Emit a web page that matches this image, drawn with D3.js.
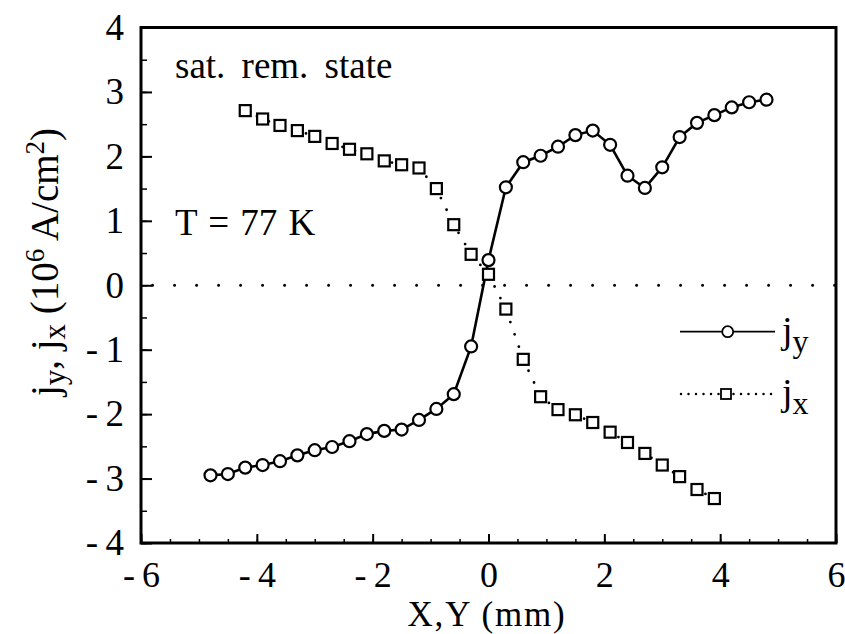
<!DOCTYPE html>
<html><head><meta charset="utf-8">
<script src="https://cdn.jsdelivr.net/npm/d3@7"></script>
<style>
body{margin:0;background:#fff;}
text{font-family:"Liberation Serif","Times New Roman",serif;fill:#000;}
</style></head>
<body><svg id="c" width="845" height="634"></svg>
<script>
// ---- data ----
const jyX = [-4.8,-4.5,-4.2,-3.9,-3.6,-3.3,-3.0,-2.7,-2.4,-2.1,-1.8,-1.5,-1.2,-0.9,-0.6,-0.3,0.0,0.3,0.6,0.9,1.2,1.5,1.8,2.1,2.4,2.7,3.0,3.3,3.6,3.9,4.2,4.5,4.8];
const jyVals = [-2.95,-2.93,-2.83,-2.79,-2.73,-2.64,-2.56,-2.51,-2.42,-2.31,-2.26,-2.24,-2.09,-1.92,-1.69,-0.95,0.39,1.52,1.91,2.01,2.15,2.33,2.40,2.18,1.70,1.51,1.83,2.30,2.52,2.64,2.76,2.84,2.88];
const jxX = [-4.2,-3.9,-3.6,-3.3,-3.0,-2.7,-2.4,-2.1,-1.8,-1.5,-1.2,-0.9,-0.6,-0.3,0.0,0.3,0.6,0.9,1.2,1.5,1.8,2.1,2.4,2.7,3.0,3.3,3.6,3.9];
const jxVals = [2.71,2.58,2.48,2.40,2.31,2.20,2.11,2.04,1.93,1.87,1.82,1.50,0.94,0.48,0.17,-0.37,-1.15,-1.73,-1.93,-2.01,-2.13,-2.28,-2.44,-2.61,-2.79,-2.97,-3.17,-3.31];
const xTicks = [-6,-4,-2,0,2,4,6];
const yTicks = [-4,-3,-2,-1,0,1,2,3,4];

const svg = d3.select("#c");
const L=141, R=836, T=27.5, B=543;
const x = d3.scaleLinear().domain([-6,6]).range([L,R]);
const y = d3.scaleLinear().domain([-4,4]).range([B,T]);
const fmt = d => d<0 ? "-\u2009"+Math.abs(d) : String(d);

// minor ticks
const minorX = d3.range(-6,6.01,0.5);
const minorY = d3.range(-4,4.01,0.5);
svg.append("g").attr("transform",`translate(0,${B})`)
  .call(d3.axisBottom(x).tickValues(minorX).tickSize(-4).tickFormat(""))
  .call(g=>{g.select(".domain").remove(); g.selectAll("line").attr("stroke-width",1.5);});
svg.append("g").attr("transform",`translate(${L},0)`)
  .call(d3.axisLeft(y).tickValues(minorY).tickSize(-6).tickFormat(""))
  .call(g=>{g.select(".domain").remove(); g.selectAll("line").attr("stroke-width",1.5);});
// major ticks
svg.append("g").attr("transform",`translate(0,${B})`)
  .call(d3.axisBottom(x).tickValues(xTicks).tickSize(-9).tickPadding(18).tickFormat(fmt))
  .call(g=>{g.select(".domain").remove(); g.selectAll("line").attr("stroke-width",2);
    g.selectAll("text").attr("font-size",36).attr("font-family","Liberation Serif").attr("fill","#000");});
svg.append("g").attr("transform",`translate(${L},0)`)
  .call(d3.axisLeft(y).tickValues(yTicks).tickSize(-11).tickPadding(17).tickFormat(fmt))
  .call(g=>{g.select(".domain").remove(); g.selectAll("line").attr("stroke-width",2);
    g.selectAll("text").attr("font-size",37).attr("font-family","Liberation Serif").attr("fill","#000");});

// frame
svg.append("rect").attr("x",L).attr("y",T).attr("width",R-L).attr("height",B-T)
  .attr("fill","none").attr("stroke","#000").attr("stroke-width",3);

// zero line
svg.append("line").attr("x1",x(-5.8)).attr("x2",x(6)).attr("y1",y(0)).attr("y2",y(0))
  .attr("stroke","#000").attr("stroke-width",3).attr("stroke-dasharray","0,22").attr("stroke-linecap","round");

const jy = jyX.map((v,i)=>[v,jyVals[i]]);
const jx = jxX.map((v,i)=>[v,jxVals[i]]);
const line = d3.line().x(d=>x(d[0])).y(d=>y(d[1]));

svg.append("path").datum(jx).attr("d",line).attr("fill","none").attr("stroke","#000")
  .attr("stroke-width",2.8).attr("stroke-dasharray","0,13").attr("stroke-linecap","round");
svg.append("path").datum(jy).attr("d",line).attr("fill","none").attr("stroke","#000").attr("stroke-width",2.6);

svg.selectAll(".sq").data(jx).join("rect").attr("class","sq")
  .attr("x",d=>x(d[0])-5.5).attr("y",d=>y(d[1])-5.5).attr("width",11).attr("height",11)
  .attr("fill","#fff").attr("stroke","#000").attr("stroke-width",2.2);
svg.selectAll(".ci").data(jy).join("circle").attr("class","ci")
  .attr("cx",d=>x(d[0])).attr("cy",d=>y(d[1])).attr("r",6)
  .attr("fill","#fff").attr("stroke","#000").attr("stroke-width",2.2);

// legend
const lg = svg.append("g");
lg.append("line").attr("x1",680).attr("x2",775).attr("y1",331.7).attr("y2",331.7).attr("stroke","#000").attr("stroke-width",1.8);
lg.append("circle").attr("cx",727.7).attr("cy",331.7).attr("r",5.5).attr("fill","#fff").attr("stroke","#000").attr("stroke-width",1.8);
lg.append("line").attr("x1",681).attr("x2",775).attr("y1",394).attr("y2",394).attr("stroke","#000").attr("stroke-width",2.5)
  .attr("stroke-dasharray","0,7.5").attr("stroke-linecap","round");
lg.append("rect").attr("x",721).attr("y",389).attr("width",10).attr("height",10).attr("fill","#fff").attr("stroke","#000").attr("stroke-width",1.8);
const t1 = lg.append("text").attr("x",782).attr("y",343).attr("font-size",38);
t1.append("tspan").text("j");
t1.append("tspan").attr("dy",9).attr("font-size",32).text("y");
const t2 = lg.append("text").attr("x",782).attr("y",405).attr("font-size",38);
t2.append("tspan").text("j");
t2.append("tspan").attr("dy",9).attr("font-size",32).text("x");

// annotations
svg.append("text").attr("x",175).attr("y",78).attr("font-size",37).attr("word-spacing",7).text("sat. rem. state");
svg.append("text").attr("x",175).attr("y",235).attr("font-size",37).attr("word-spacing",2).text("T = 77 K");

// axis titles
svg.append("text").attr("x",487).attr("y",626).attr("text-anchor","middle").attr("font-size",35).attr("letter-spacing",1.8).text("X,Y (mm)");
const yl = svg.append("text").attr("transform","translate(58,262) rotate(-90)").attr("text-anchor","middle").attr("font-size",39);
yl.append("tspan").text("j");
yl.append("tspan").attr("dy",7).attr("font-size",31).text("y");
yl.append("tspan").attr("dy",-7).text(", j");
yl.append("tspan").attr("dy",7).attr("font-size",31).text("x");
yl.append("tspan").attr("dy",-7).text(" (10");
yl.append("tspan").attr("dy",-14).attr("font-size",27).text("6");
yl.append("tspan").attr("dy",14).text(" A/cm");
yl.append("tspan").attr("dy",-14).attr("font-size",27).text("2");
yl.append("tspan").attr("dy",14).text(")");
</script></body></html>
